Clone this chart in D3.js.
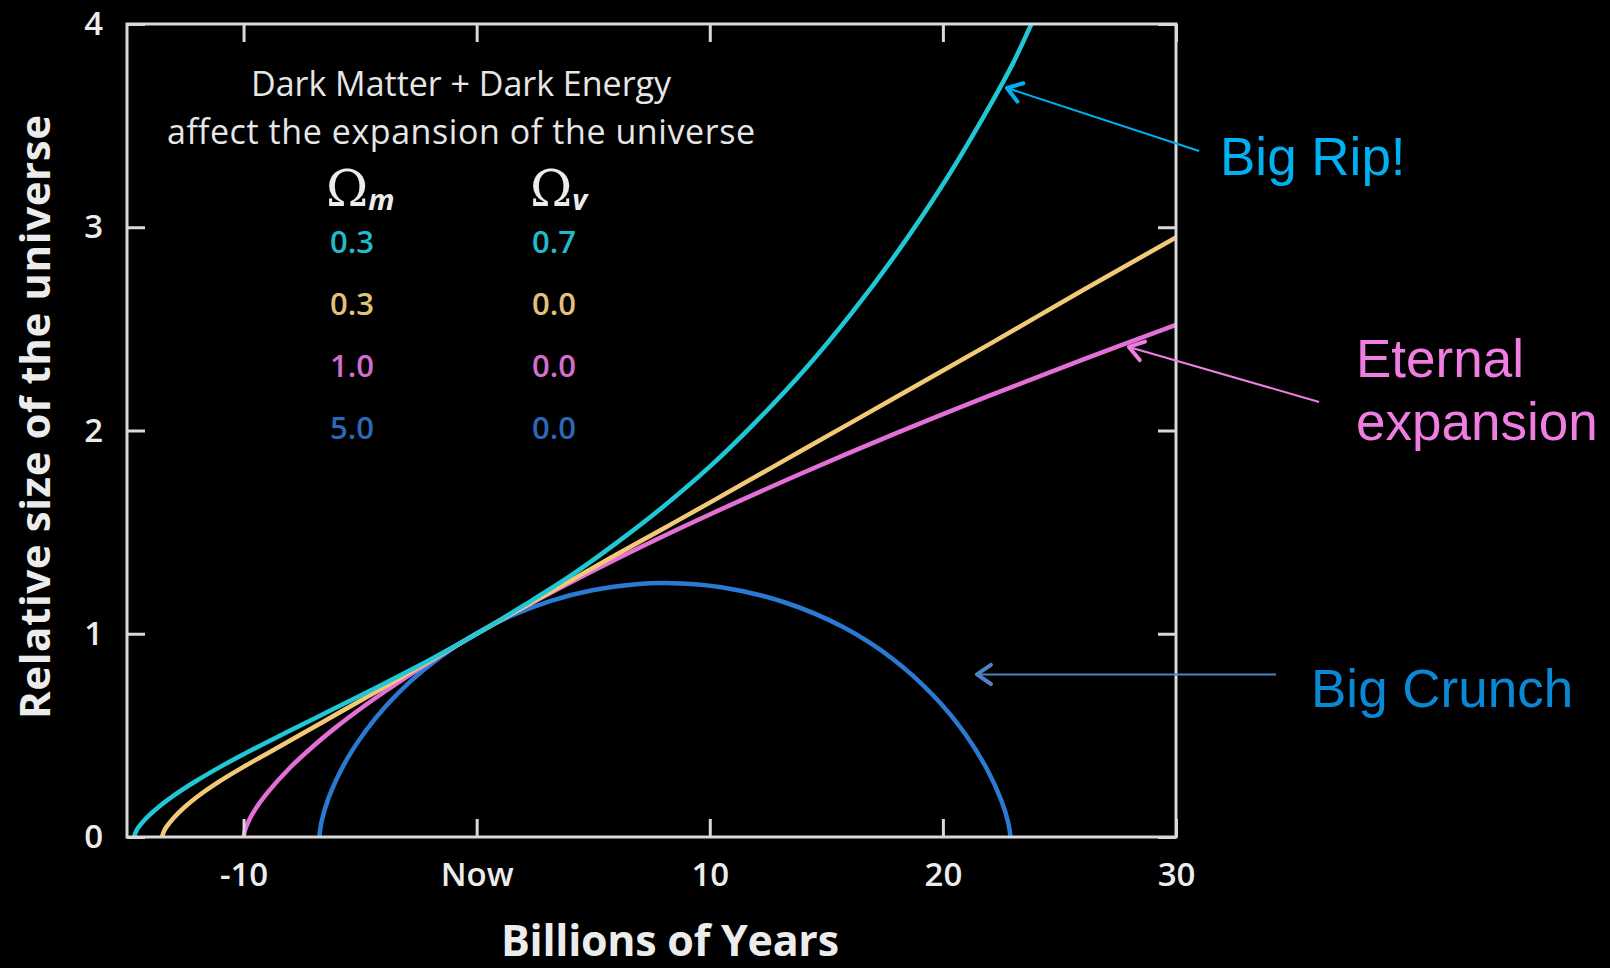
<!DOCTYPE html>
<html>
<head>
<meta charset="utf-8">
<script src="https://cdn.jsdelivr.net/npm/d3@7"></script>
<style>
  body { margin: 0; background: #000; }
  svg { display: block; }
</style>
</head>
<body>
<div id="chart"></div>
<script>
// scale factor of the universe vs. time (billions of years, 0 = now)
const cyanT = [-14.7, -14.6, -14.5, -14.2, -14, -13.5, -13, -12, -11, -10, -8, -6, -4, -2, 0, 2, 4, 6, 8, 10, 12, 14, 16, 18, 20, 22, 23, 23.8, 24.1];
const cyanA = [0, 0.031, 0.049, 0.09, 0.112, 0.161, 0.204, 0.278, 0.345, 0.407, 0.524, 0.638, 0.753, 0.872, 1, 1.138, 1.283, 1.447, 1.625, 1.822, 2.045, 2.29, 2.565, 2.87, 3.21, 3.595, 3.805, 4.0, 4.07];

const yellowT = [-13.5, -13.4, -13.3, -13, -12.5, -12, -11, -10, -9, -8, -6, -4, -2, 0, 2, 4, 6, 8, 10, 14, 18, 22, 26, 30];
const yellowA = [0, 0.032, 0.051, 0.094, 0.15, 0.197, 0.276, 0.345, 0.41, 0.475, 0.605, 0.735, 0.867, 1, 1.13, 1.26, 1.39, 1.517, 1.645, 1.905, 2.165, 2.425, 2.69, 2.95];

const pinkT = [-10, -9.95, -9.8, -9.5, -9, -8, -7, -6, -5, -4, -2, 0, 2, 4, 6, 8, 10, 14, 18, 22, 26, 30];
const pinkA = [0, 0.029, 0.074, 0.136, 0.215, 0.342, 0.448, 0.543, 0.63, 0.711, 0.862, 1, 1.129, 1.251, 1.368, 1.48, 1.587, 1.792, 1.987, 2.172, 2.349, 2.52];

const blueT = [-6.75, -6.65, -6.36, -6, -5.48, -4.78, -3.9, -2.83, -1.57, -0.14, 1.44, 3.15, 4.96, 6.83, 8.1, 10.5, 13.2, 15.7, 17.85, 19.6, 20.95, 21.9, 22.5, 22.8, 22.9];
const blueA = [0, 0.077, 0.19, 0.287, 0.399, 0.519, 0.643, 0.767, 0.885, 0.993, 1.086, 1.161, 1.214, 1.244, 1.25, 1.229, 1.155, 1.034, 0.876, 0.695, 0.508, 0.332, 0.182, 0.072, 0];

const omegaM = ["0.3", "0.3", "1.0", "5.0"];
const omegaV = ["0.7", "0.0", "0.0", "0.0"];
const lineColors = ["#1fc8d4", "#f2c977", "#e46fd6", "#2a7ad2"];
const textColors = ["#20bccc", "#e2c27a", "#d46dcb", "#2b69b6"];

const xTicks = [-10, 0, 10, 20, 30];
const xTickLabels = ["-10", "Now", "10", "20", "30"];
const yTicks = [0, 1, 2, 3, 4];

const W = 1610, H = 968;
const plot = {left: 127, top: 24, right: 1176, bottom: 837};

const svg = d3.select("#chart").append("svg")
    .attr("width", W)
    .attr("height", H)
    .style("background", "#000");

const x = d3.scaleLinear().domain([-15, 30]).range([plot.left, plot.right]);
const y = d3.scaleLinear().domain([0, 4]).range([plot.bottom, plot.top]);

svg.append("clipPath").attr("id", "clip")
  .append("rect")
    .attr("x", plot.left).attr("y", plot.top)
    .attr("width", plot.right - plot.left).attr("height", plot.bottom - plot.top);

const series = [
  d3.zip(cyanT, cyanA),
  d3.zip(yellowT, yellowA),
  d3.zip(pinkT, pinkA),
  d3.zip(blueT, blueA)
];

const line = d3.line()
    .x(d => x(d[0]))
    .y(d => y(d[1]))
    .curve(d3.curveCatmullRom.alpha(0.5));

// draw blue first so the others sit on top where they merge
const order = [3, 2, 1, 0];
svg.append("g").attr("clip-path", "url(#clip)")
  .selectAll("path")
  .data(order)
  .join("path")
    .attr("d", i => line(series[i]))
    .attr("fill", "none")
    .attr("stroke", i => lineColors[i])
    .attr("stroke-width", 4.5)
    .attr("stroke-linecap", "round");

// axes with inward ticks on all four sides
const axisColor = "#d9d9d9";
const tickFont = "'Open Sans', 'DejaVu Sans', sans-serif";

const gx = svg.append("g")
    .attr("transform", "translate(0," + plot.bottom + ")")
    .call(d3.axisBottom(x).tickValues(xTicks)
      .tickFormat((d, i) => xTickLabels[i])
      .tickSizeInner(-18).tickSizeOuter(0).tickPadding(26));
const gt = svg.append("g")
    .attr("transform", "translate(0," + plot.top + ")")
    .call(d3.axisTop(x).tickValues(xTicks).tickFormat("")
      .tickSizeInner(-18).tickSizeOuter(0));
const gy = svg.append("g")
    .attr("transform", "translate(" + plot.left + ",0)")
    .call(d3.axisLeft(y).tickValues(yTicks).tickFormat(d3.format("d"))
      .tickSizeInner(-18).tickSizeOuter(0).tickPadding(24));
const gr = svg.append("g")
    .attr("transform", "translate(" + plot.right + ",0)")
    .call(d3.axisRight(y).tickValues(yTicks).tickFormat("")
      .tickSizeInner(-18).tickSizeOuter(0));

[gx, gt, gy, gr].forEach(g => {
  g.select(".domain").remove();
  g.selectAll(".tick line").attr("stroke", axisColor).attr("stroke-width", 3);
  g.selectAll("text")
    .attr("fill", "#ececec")
    .style("font-family", tickFont)
    .style("font-weight", 600)
    .style("font-size", "33px");
});

svg.append("rect")
    .attr("x", plot.left).attr("y", plot.top)
    .attr("width", plot.right - plot.left).attr("height", plot.bottom - plot.top)
    .attr("fill", "none")
    .attr("stroke", axisColor)
    .attr("stroke-width", 3);

// axis titles
svg.append("text")
    .attr("x", 670).attr("y", 956)
    .attr("text-anchor", "middle")
    .attr("fill", "#ececec")
    .style("font-family", tickFont)
    .style("font-weight", 700)
    .style("font-size", "43px")
    .attr("textLength", 338)
    .text("Billions of Years");

svg.append("text")
    .attr("transform", "translate(50,417) rotate(-90)")
    .attr("text-anchor", "middle")
    .attr("fill", "#ececec")
    .style("font-family", tickFont)
    .style("font-weight", 700)
    .style("font-size", "42px")
    .attr("textLength", 604)
    .text("Relative size of the universe");

// heading inside the plot
const heading = ["Dark Matter + Dark Energy", "affect the expansion of the universe"];
const headingWidths = [420, 588];
svg.append("g").selectAll("text")
  .data(heading)
  .join("text")
    .attr("x", 461)
    .attr("y", (d, i) => 96 + i * 48)
    .attr("text-anchor", "middle")
    .attr("fill", "#e6e6e6")
    .style("font-family", tickFont)
    .style("font-size", "34px")
    .attr("textLength", (d, i) => headingWidths[i])
    .text(d => d);

// omega headers
const colX = [352, 554];
const omegaX = [326, 530];
const subs = ["m", "v"];
omegaX.forEach((ox, i) => {
  const t = svg.append("text")
      .attr("x", ox).attr("y", 206)
      .attr("fill", "#ececec");
  t.append("tspan")
      .style("font-family", "'DejaVu Serif', 'Liberation Serif', serif")
      .style("font-size", "51px")
      .text("\u03A9");
  t.append("tspan")
      .attr("dy", 4)
      .style("font-family", tickFont)
      .style("font-style", "italic")
      .style("font-weight", 700)
      .style("font-size", "29px")
      .text(subs[i]);
});

// omega values table
const rows = d3.range(omegaM.length);
svg.append("g").selectAll("g")
  .data(rows)
  .join("g")
  .each(function(i) {
    const g = d3.select(this);
    [omegaM[i], omegaV[i]].forEach((v, j) => {
      g.append("text")
          .attr("x", colX[j])
          .attr("y", 253 + i * 62)
          .attr("text-anchor", "middle")
          .attr("fill", textColors[i])
          .style("font-family", tickFont)
          .style("font-weight", 600)
          .style("font-size", "31px")
          .text(v);
    });
  });

// annotations with arrows (tip and tail in data units)
const notes = [
  {lines: ["Big Rip!"], tx: 1220, ty: 175, color: "#00b0f0", arrow: "#00b0f0", tip: [22.75, 3.685], tail: [30.99, 3.375]},
  {lines: ["Eternal", "expansion"], tx: 1356, ty: 377, color: "#f07ee2", arrow: "#f07ee2", tip: [27.98, 2.411], tail: [36.14, 2.14]},
  {lines: ["Big Crunch"], tx: 1311, ty: 707, color: "#0a88d4", arrow: "#4f83c0", tip: [21.46, 0.80], tail: [34.29, 0.80]}
];

notes.forEach(n => {
  const x1 = x(n.tail[0]), y1 = y(n.tail[1]);
  const x2 = x(n.tip[0]), y2 = y(n.tip[1]);
  svg.append("line")
      .attr("x1", x1).attr("y1", y1).attr("x2", x2).attr("y2", y2)
      .attr("stroke", n.arrow).attr("stroke-width", 2);
  const ang = Math.atan2(y1 - y2, x1 - x2);
  const len = 17, spread = 0.6;
  const p1 = [x2 + len * Math.cos(ang + spread), y2 + len * Math.sin(ang + spread)];
  const p2 = [x2 + len * Math.cos(ang - spread), y2 + len * Math.sin(ang - spread)];
  svg.append("path")
      .attr("d", "M" + p1 + "L" + [x2, y2] + "L" + p2)
      .attr("fill", "none")
      .attr("stroke", n.arrow)
      .attr("stroke-width", 4)
      .attr("stroke-linecap", "round")
      .attr("stroke-linejoin", "round");
  svg.append("g").selectAll("text")
    .data(n.lines)
    .join("text")
      .attr("x", n.tx)
      .attr("y", (d, i) => n.ty + i * 63)
      .attr("fill", n.color)
      .style("font-family", "'Liberation Sans', Arial, sans-serif")
      .style("font-size", "53px")
      .text(d => d);
});
</script>
</body>
</html>
